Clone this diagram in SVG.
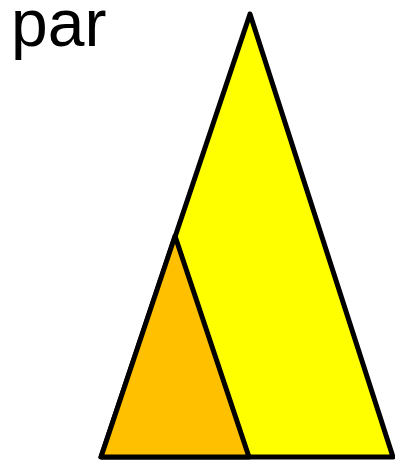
<svg xmlns="http://www.w3.org/2000/svg" width="395" height="461" viewBox="0 0 395 461">
<style>
.tri{stroke:#000;stroke-width:5;stroke-linejoin:round}
.lbl{font-family:"Liberation Sans",Arial,sans-serif;font-size:66px;fill:#000}
</style>
<rect width="395" height="461" fill="#fff"/>
<g id="label"><text class="lbl" x="11" y="46">par</text></g>
<g id="big"><polygon class="tri" fill="#FFFF00" points="250,14 101,457 393,457"/></g>
<g id="small"><polygon class="tri" fill="#FFC000" points="175,236 101,457 249,457"/></g>
<g id="connectors"/>
</svg>
